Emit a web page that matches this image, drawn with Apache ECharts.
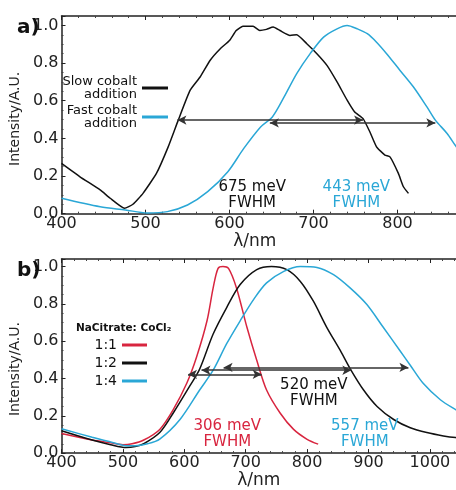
<!DOCTYPE html>
<html><head><meta charset="utf-8">
<script src="https://cdn.jsdelivr.net/npm/echarts@6/dist/echarts.min.js"></script>
<style>html,body{margin:0;padding:0;background:#fff}#c{width:456px;height:490px}</style>
</head><body><div id="c"></div>
<script>
// ---- Panel a data ----
const slowNm  = [400,422,446,458,475,485,497,513,527,539,553,565,577,589,600,608,616,628,636,644,652,660,672,680,692,704,716,728,740,749,759,767,775,785,791,801,807,813];
const slowVal = [.267,.196,.126,.082,.029,.05,.108,.214,.355,.497,.655,.726,.815,.876,.92,.973,.996,.996,.973,.979,.991,.973,.947,.95,.903,.85,.788,.70,.603,.54,.505,.435,.355,.311,.302,.214,.143,.108];
const fastNm  = [400,446,476,502,526,550,574,598,617,637,651,665,680,696,712,728,740,752,764,775,787,803,819,835,845,859,870,885];
const fastVal = [.082,.037,.02,.004,.011,.046,.117,.223,.347,.461,.514,.62,.744,.85,.938,.982,1.0,.982,.956,.911,.85,.761,.673,.567,.497,.426,.355,.27];
// ---- Panel b data ----
const r11Nm  = [400,450,480,500,515,534,560,582,604,620,637,647,655,663,672,685,702,718,734,756,778,800,818];
const r11Val = [.105,.07,.055,.045,.05,.07,.127,.233,.374,.515,.709,.885,.99,1.0,.99,.885,.674,.497,.338,.215,.127,.074,.048];
const r12Nm  = [400,450,480,505,520,534,560,582,609,625,647,669,691,718,742,767,789,810,832,854,870,892,914,941,968,995,1022,1042,1060];
const r12Val = [.12,.07,.045,.03,.035,.05,.11,.215,.36,.45,.638,.78,.903,.983,1.0,.983,.92,.815,.674,.55,.453,.338,.25,.18,.136,.11,.092,.083,.08];
const r14Nm  = [400,450,480,505,520,540,560,593,625,647,669,691,713,734,762,789,816,843,870,897,924,951,968,989,1017,1042,1060];
const r14Val = [.13,.085,.06,.04,.04,.05,.075,.18,.338,.444,.586,.709,.824,.912,.974,1.0,.995,.956,.885,.797,.674,.55,.471,.374,.286,.233,.2];
// FWHM arrows [startNm, endNm, level]
const arrowsA = [[538,759,0.497],[648,845,0.482]];
const arrowsB = [[664,965,0.459],[628,872,0.444],[606,726,0.422]];
const labelsA = [['675 meV\nFWHM',627,0.10,'#111'],['443 meV\nFWHM',751,0.10,'#2aa7d6']];
const labelsB = [['520 meV\nFWHM',811,0.32,'#111'],['306 meV\nFWHM',670,0.104,'#d8253f'],['557 meV\nFWHM',894,0.104,'#2aa7d6']];
// visible wavelength range of each panel (plots are cut at the right edge)
const xRangeA = [400, 869.6];
const xRangeB = [400, 1042.5];

const FF = 'DejaVu Sans';
const BLACK = '#111', BLUE = '#2aa7d6', RED = '#d8253f';
const zip = (a,b) => a.map((x,i)=>[x,b[i]]);

function xAx(gi, range, top) {
  return {
    type:'value', gridIndex:gi, min:range[0], max:range[1], interval:100, position: top?'top':'bottom',
    axisLine:{show:true, onZero:false, lineStyle:{color:'#222', width:1.5}},
    axisTick:{show:true, inside:true, length:4, lineStyle:{color:'#222'}},
    minorTick:{show:true, splitNumber:5, length:2, lineStyle:{color:'#444'}},
    axisLabel:{show:!top, fontFamily:FF, fontSize:16, color:'#222', margin:2, showMaxLabel:false,
      formatter: v => String(Math.round(v))},
    splitLine:{show:false},
    name: top ? '' : 'λ/nm', nameLocation:'middle', nameGap: gi===0?18:10,
    nameTextStyle:{fontFamily:FF, fontSize:17, color:'#222', verticalAlign:'top', padding: gi===0?[0,8,0,0]:[0,0,0,0]}
  };
}
function yAx(gi) {
  return {
    type:'value', gridIndex:gi, min:0, max: gi===0?1.05:1.04, interval:0.2,
    axisLine:{show:true, lineStyle:{color:'#222', width:1.5}},
    axisTick:{show:true, inside:true, length:4, lineStyle:{color:'#222'}},
    minorTick:{show:true, splitNumber:4, length:2, lineStyle:{color:'#444'}},
    axisLabel:{fontFamily:FF, fontSize:16, color:'#222', margin:3, showMaxLabel:false,
      formatter: v => v.toFixed(1)},
    splitLine:{show:false},
    name:'Intensity/A.U.', nameLocation:'middle', nameGap:31,
    nameTextStyle:{fontFamily:FF, fontSize:14, color:'#222', padding: gi===0?[0,0,0,-8]:[0,0,0,-26]}
  };
}
function arrowLine(list){
  return {
    silent:true, symbol:['arrow','arrow'], symbolSize:[7,9],
    lineStyle:{color:'#333', width:1.5, type:'solid'}, label:{show:false},
    data: list.map(a => [{coord:[a[0],a[2]]},{coord:[a[1],a[2]]}])
  };
}
function textPts(list){
  return {
    silent:true, symbol:'rect', symbolSize:0,
    data: list.map(t => ({coord:[t[1],t[2]], symbolSize:0,
      label:{show:true, position:'inside', formatter:t[0], color:t[3], fontFamily:FF, fontSize:15, lineHeight:16, align:'center'}}))
  };
}
const lineS = (name, data, color, xi, yi, extra) => Object.assign({
  type:'line', name, data, xAxisIndex:xi, yAxisIndex:yi, showSymbol:false,
  smooth:0.3,
  lineStyle:{color, width:1.5}, itemStyle:{color}, animation:false, z:3
}, extra||{});

const chart = echarts.init(document.getElementById('c'), null, {renderer:'canvas'});
chart.setOption({
  animation:false,
  backgroundColor:'#fff',
  grid:[
    {left:61.5, top:16, right:0, height:197.7},
    {left:61.5, top:259, right:0, height:196.7}
  ],
  xAxis:[xAx(0,xRangeA,false), xAx(1,xRangeB,false), xAx(0,xRangeA,true), xAx(1,xRangeB,true)],
  yAxis:[yAx(0), yAx(1)],
  title:[
    {text:'a)', left:12, top:13, textStyle:{fontFamily:FF, fontSize:20, fontWeight:'bold', color:'#111'}},
    {text:'b)', left:12, top:256, textStyle:{fontFamily:FF, fontSize:20, fontWeight:'bold', color:'#111'}},
    {text:'NaCitrate: CoCl₂', left:71, top:318, textStyle:{fontFamily:FF, fontSize:10.5, fontWeight:'bold', color:'#111'}}
  ],
  legend:[
    {data:['Slow cobalt addition','Fast cobalt addition'], orient:'vertical', align:'right', right:283, top:70,
     itemWidth:26, itemHeight:3, itemGap:3, icon:'rect', selectedMode:false,
     formatter: n => n.replace(' addition','\naddition'),
     textStyle:{fontFamily:FF, fontSize:13, lineHeight:13, color:'#111'}},
    {data:['1:1','1:2','1:4'], orient:'vertical', align:'right', right:304, top:333,
     itemWidth:25, itemHeight:3, itemGap:4, icon:'rect', selectedMode:false,
     textStyle:{fontFamily:FF, fontSize:14, lineHeight:14, color:'#111'}}
  ],
  series:[
    lineS('Slow cobalt addition', zip(slowNm,slowVal), BLACK, 0, 0, {smooth:0.15, markLine:arrowLine(arrowsA), markPoint:textPts(labelsA)}),
    lineS('Fast cobalt addition', zip(fastNm,fastVal), BLUE, 0, 0),
    lineS('1:1', zip(r11Nm,r11Val), RED, 1, 1),
    lineS('1:2', zip(r12Nm,r12Val), BLACK, 1, 1, {markLine:arrowLine(arrowsB), markPoint:textPts(labelsB)}),
    lineS('1:4', zip(r14Nm,r14Val), BLUE, 1, 1)
  ]
});
</script></body></html>
